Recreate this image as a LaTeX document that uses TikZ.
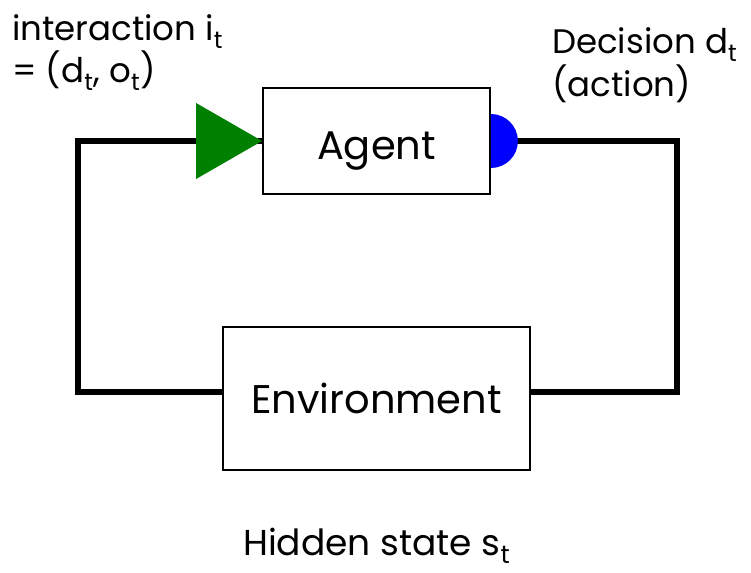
\documentclass[tikz,border=0pt]{standalone}
\usepackage{fontspec}
\setmainfont{Poppins}
\definecolor{inport}{RGB}{0,128,0}
\definecolor{outport}{RGB}{0,0,255}
\begin{document}
\begin{tikzpicture}[x=1pt,y=-1pt,
  box/.style={draw, line width=1.8pt, inner sep=0pt, text depth=0pt, font=\fontsize{40}{44}\selectfont},
  wire/.style={line width=5.5pt, line join=miter},
  lbl/.style={anchor=base west, inner sep=0pt, font=\fontsize{34}{40}\selectfont}]
\useasboundingbox (0,0) rectangle (751,572);

% the two blocks of the loop
\node[box, text height=38pt, minimum width=227pt, minimum height=106pt] (agent) at (376.5,141) {Agent};
\node[box, text height=29pt, minimum width=307pt, minimum height=143pt] (env) at (376.5,398.5) {Environment};

% corners of the feedback loop
\coordinate (tl) at (78,141);
\coordinate (bl) at (78,392);
\coordinate (tr) at (677,141);
\coordinate (br) at (677,392);

% feedback wires
\draw[wire] (agent.west) -- (tl) -- (bl) -- (bl -| env.west);
\draw[wire] (agent.east) -- (tr) -- (br) -- (br -| env.east);

% input port (triangle) and output port (half disc)
\fill[inport] (agent.west) -- ++(-66,-38) -- ++(0,76) -- cycle;
\fill[outport] (agent.east) ++(0,-27) arc[start angle=-90, end angle=90, radius=27] -- cycle;

% labels
\node[lbl] (inter1) at (12,41) {interaction i\textsubscript{t}};
\node[lbl] (inter2) at (12,83) {= (d\textsubscript{t}, o\textsubscript{t})};
\node[lbl] (dec1) at (552,54) {Decision d\textsubscript{t}};
\node[lbl] (dec2) at (552,97) {(action)};
\node[lbl, font=\fontsize{36}{40}\selectfont] (hidden) at (243,555) {Hidden state s\textsubscript{t}};
\end{tikzpicture}
\end{document}
